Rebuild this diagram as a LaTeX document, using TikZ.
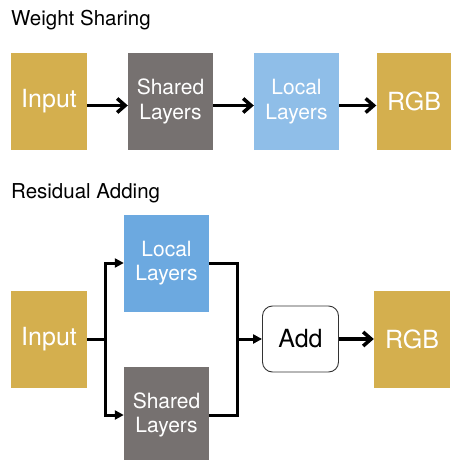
\documentclass[tikz,border=0pt]{standalone}
\usepackage{fontspec}
\setmainfont{TeX Gyre Heros}
\usetikzlibrary{arrows.meta,calc}

\definecolor{gold}{HTML}{D4AF4E}
\definecolor{sharedgray}{HTML}{767170}
\definecolor{lightblue}{HTML}{8FBEE8}
\definecolor{midblue}{HTML}{6CA9E0}

\tikzset{
  block/.style={minimum width=76pt, minimum height=97pt, inner sep=0pt,
    text=white, align=center},
  iobox/.style={block, fill=gold, font=\fontsize{25}{28}\selectfont},
  layerbox/.style={block, minimum width=85pt, font=\fontsize{21}{24.5}\selectfont},
  title/.style={anchor=base west, inner sep=0pt, font=\fontsize{20.5}{22}\selectfont},
  bigarrow/.style={line width=3.5pt, -{Straight Barb[length=8pt,width=14pt]}},
  wire/.style={line width=3pt},
  smallarrow/.style={line width=3pt, -{Triangle[length=9pt,width=9pt]}},
}

\begin{document}
\begin{tikzpicture}[x=1pt,y=1pt]
\useasboundingbox (0,0) rectangle (450,-460);

% ---------- Weight Sharing ----------
\node[title] (t1) at (11,-26) {Weight Sharing};

\node[iobox] (in1) at (49,-101.5) {Input};
\node[layerbox, fill=sharedgray] (sh1) at (170.5,-101.5) {Shared\\Layers};
\node[layerbox, fill=lightblue] (lo1) at (296.5,-101.5) {Local\\Layers};
\node[iobox, minimum width=75pt] (rgb1) at (414,-101.5) {RGB};

\draw[bigarrow] ($(in1.east)+(0,-4)$) -- ($(sh1.west)+(0,-4)$);
\draw[bigarrow] ($(sh1.east)+(0,-4)$) -- ($(lo1.west)+(0,-4)$);
\draw[bigarrow] ($(lo1.east)+(0,-4)$) -- ($(rgb1.west)+(0,-4)$);

% ---------- Residual Adding ----------
\node[title] (t2) at (11,-198) {Residual Adding};

\node[iobox] (in2) at (49,-339) {Input};
\node[layerbox, fill=midblue] (lo2) at (166.5,-263) {Local\\Layers};
\node[layerbox, fill=sharedgray] (sh2) at (166.5,-415) {Shared\\Layers};
\node[draw=black!80, line width=0.9pt, rounded corners=10pt, fill=white,
      minimum width=76pt, minimum height=66pt, inner sep=0pt,
      font=\fontsize{25}{28}\selectfont] (add) at (300.5,-339) {Add};
\node[iobox] (rgb2) at (412,-339) {RGB};

\coordinate (split) at (105,-339);
\coordinate (merge) at (237,-339);

\draw[wire] (in2.east) -- (split);
\draw[smallarrow] (split) |- (lo2.west);
\draw[smallarrow] (split) |- (sh2.west);
\draw[wire] (lo2.east) -| (merge);
\draw[wire] (sh2.east) -| (merge);
\draw[smallarrow] (merge) -- (add.west);
\draw[bigarrow] (add.east) -- (rgb2.west);
\end{tikzpicture}
\end{document}
